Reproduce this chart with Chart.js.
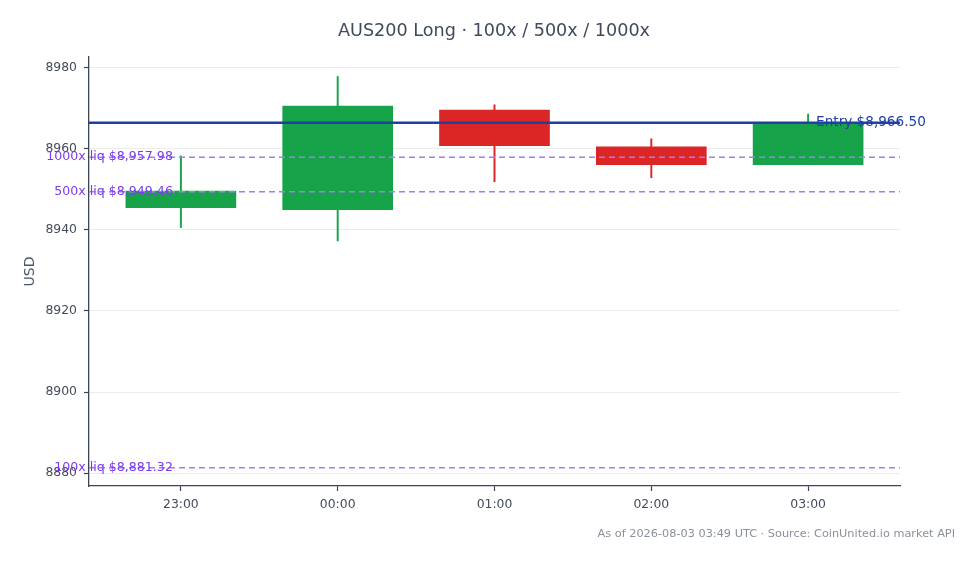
<!DOCTYPE html>
<html><head><meta charset="utf-8">
<script src="https://cdn.jsdelivr.net/npm/chart.js@4.4.1/dist/chart.umd.min.js"></script>
<style>html,body{margin:0;padding:0;background:#fff;}#wrap{width:978px;height:564px;}</style>
</head><body><div id="wrap"><canvas id="c" width="978" height="564"></canvas></div>
<script>
const categories = ['23:00','00:00','01:00','02:00','03:00'];
const opens  = [8945.5, 8945.0, 8969.6, 8960.5, 8956.1];
const closes = [8949.6, 8970.6, 8960.8, 8956.1, 8966.5];
const highs  = [8958.3, 8977.9, 8970.9, 8962.5, 8968.6];
const lows   = [8940.6, 8937.3, 8951.9, 8952.9, 8956.1];
const entryPrice = 8966.50;
const liqLevels = [8957.98, 8949.46, 8881.32];
const liqLabels = ['1000x liq $8,957.98', '500x liq $8,949.46', '100x liq $8,881.32'];
const entryLabel = 'Entry $8,966.50';
const yTicks = [8880, 8900, 8920, 8940, 8960, 8980];
const titleText = 'AUS200 Long \u00b7 100x / 500x / 1000x';
const footerText = 'As of 2026-08-03 03:49 UTC \u00b7 Source: CoinUnited.io market API';

const UP = '#16a34a', DOWN = '#dc2626';
const FONT = "'DejaVu Sans', sans-serif";
const colors = opens.map((o,i)=> closes[i] >= o ? UP : DOWN);

const bodies = categories.map((c,i)=>({x:i, y:[opens[i], closes[i]]}));
const wicks = categories.map((c,i)=>({x:i, y:[lows[i], highs[i]]}));

const overlay = {
  id:'overlay',
  afterDatasetsDraw(chart){
    const {ctx, chartArea:a, scales:{x,y}} = chart;
    ctx.save();
    ctx.setLineDash([6,4]);
    ctx.strokeStyle = '#a47df2';
    ctx.lineWidth = 1.5;
    liqLevels.forEach(v=>{
      const py = y.getPixelForValue(v);
      ctx.beginPath(); ctx.moveTo(a.left, py); ctx.lineTo(a.right, py); ctx.stroke();
    });
    ctx.setLineDash([]);
    const ey = y.getPixelForValue(entryPrice);
    ctx.strokeStyle = '#1e3fa3';
    ctx.lineWidth = 2.5;
    ctx.beginPath(); ctx.moveTo(a.left, ey); ctx.lineTo(a.right, ey); ctx.stroke();
    ctx.textBaseline = 'middle';
    ctx.font = '13.6px ' + FONT;
    ctx.fillStyle = '#2341a5';
    ctx.textAlign = 'left';
    ctx.fillText(entryLabel, x.getPixelForValue(categories.length-1) + 8, ey);
    ctx.font = '12.6px ' + FONT;
    ctx.fillStyle = '#7c3aed';
    ctx.textAlign = 'right';
    const lx = x.getPixelForValue(0) - 8;
    liqLevels.forEach((v,i)=>{
      ctx.fillText(liqLabels[i], lx, y.getPixelForValue(v));
    });
    ctx.restore();
  },
  afterDraw(chart){
    const ctx = chart.ctx;
    ctx.save();
    ctx.textBaseline = 'middle';
    ctx.textAlign = 'center';
    ctx.font = '17.6px ' + FONT;
    ctx.fillStyle = '#3f4a5a';
    ctx.fillText(titleText, 494, 31);
    ctx.font = '11.3px ' + FONT;
    ctx.fillStyle = '#8a909a';
    ctx.textAlign = 'right';
    ctx.fillText(footerText, 955, 534);
    ctx.restore();
  }
};

new Chart(document.getElementById('c'), {
  type:'bar',
  data:{
    datasets:[
      {label:'wick', data:wicks, backgroundColor:colors, barThickness:1.3, grouped:false, order:2, borderSkipped:false},
      {label:'body', data:bodies, backgroundColor:colors, barThickness:110, grouped:false, order:1, borderSkipped:false}
    ]
  },
  options:{
    responsive:false,
    animation:false,
    devicePixelRatio:1,
    layout:{padding:{left:0, right:78, top:57, bottom:0}},
    plugins:{
      legend:{display:false},
      tooltip:{enabled:false},
      title:{display:false}
    },
    scales:{
      x:{
        type:'linear', min:-0.586, max:4.586, offset:false,
        afterBuildTicks(s){ s.ticks = categories.map((c,i)=>({value:i})); },
        afterFit(s){ s.height = 78; },
        ticks:{callback:(v)=>categories[v], color:'#444c5a', font:{family:FONT, size:12.4}, padding:6, autoSkip:false, maxRotation:0},
        grid:{offset:false, drawOnChartArea:false, drawTicks:true, tickLength:5, tickColor:'#3b4556', tickWidth:1.2},
        border:{display:true, color:'#3b4556', width:1.3}
      },
      y:{
        type:'linear', min:8876.8, max:8982.7,
        afterBuildTicks(s){ s.ticks = yTicks.map(v=>({value:v})); },
        afterFit(s){ s.width = 89; },
        ticks:{callback:(v)=>String(v), color:'#444c5a', font:{family:FONT, size:12.4}, padding:7},
        grid:{color:'#ebebeb', lineWidth:1, drawTicks:true, tickLength:5, tickColor:'#3b4556', tickWidth:1.2},
        border:{display:true, color:'#3b4556', width:1.3},
        title:{display:true, text:'USD', color:'#4a5568', font:{family:FONT, size:14}, padding:{top:22, bottom:0}}
      }
    }
  },
  plugins:[overlay]
});
</script></body></html>
